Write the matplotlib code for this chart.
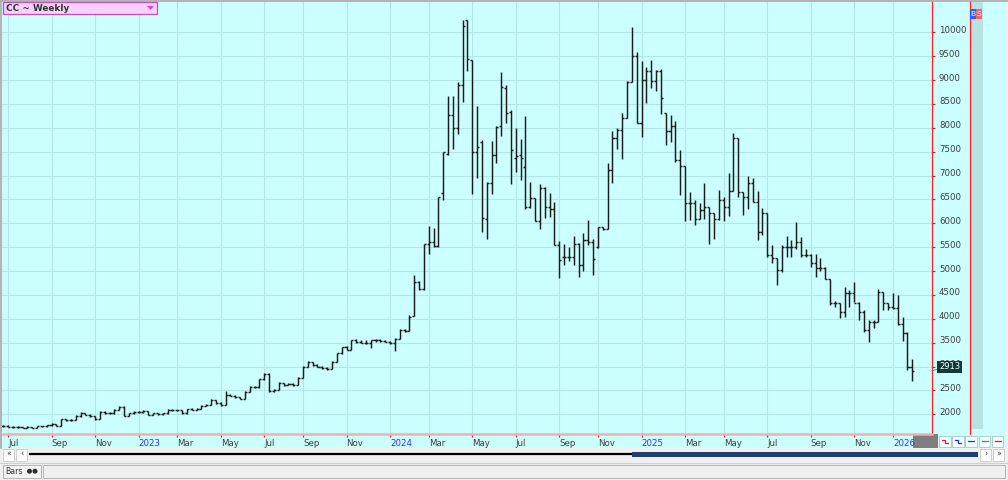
import numpy as np
import pandas as pd
import matplotlib
matplotlib.use("Agg")
import matplotlib.pyplot as plt
import matplotlib.transforms as mtransforms
from matplotlib.patches import Rectangle, Polygon, Circle

plt.rcParams["font.family"] = ["DejaVu Sans"]

# weekly OHLC (Friday-dated weeks)
first_week = "2022-06-24"

opens = [
    1745, 1765, 1740, 1730, 1725, 1720, 1735, 1720, 1745, 1750,
    1770, 1795, 1755, 1900, 1870, 1890, 1960, 2020, 1990, 1960,
    1900, 2050, 2030, 2020, 2100, 2160, 1970, 2020, 2050, 2040,
    2070, 1990, 2020, 2000, 2020, 2100, 2090, 2080, 2020, 2110,
    2100, 2120, 2180, 2190, 2300, 2240, 2190, 2410, 2390, 2360,
    2330, 2470, 2570, 2565, 2730, 2850, 2480, 2510, 2650, 2620,
    2640, 2620, 2760, 3000, 3090, 3040, 2990, 2970, 2950, 3100,
    3280, 3410, 3345, 3550, 3520, 3500, 3485, 3550, 3560, 3540,
    3520, 3500, 3585, 3770, 3745, 4060, 4780, 4620, 5560, 5600,
    5520, 6640, 7450, 8270, 7990, 8890, 10250, 9410, 7500, 7710,
    6100, 6840, 7440, 8040, 8830, 8320, 7360, 7430, 7170, 6350,
    6520, 6040, 6730, 6350, 6300, 5550, 5300, 5300, 5300, 5570,
    5130, 5650, 5600, 5500, 5920, 5880, 7120, 7780, 7960, 8200,
    8960, 9500, 8090, 9000, 9190, 8980, 9180, 8300, 7930, 8030,
    7320, 7200, 6420, 6430, 6080, 6280, 6350, 6210, 6080, 6490,
    6350, 6680, 7790, 6660, 6560, 6850, 6450, 5820, 6220, 5340,
    5270, 5020, 5510, 5510, 5510, 5610, 5340, 5340, 5160, 5060,
    5060, 4830, 4320, 4340, 4150, 4530, 4530, 4320, 4150, 3760,
    3940, 3940, 4570, 4320, 4250, 4220, 3900, 3700, 3000,
]
highs = [
    1785, 1770, 1750, 1745, 1740, 1745, 1740, 1755, 1765, 1785,
    1815, 1800, 1910, 1910, 1905, 1990, 2040, 2030, 2000, 1965,
    2060, 2065, 2045, 2110, 2170, 2165, 2030, 2065, 2060, 2080,
    2075, 2035, 2030, 2035, 2110, 2110, 2100, 2085, 2120, 2125,
    2135, 2190, 2205, 2310, 2305, 2250, 2490, 2425, 2400, 2370,
    2480, 2590, 2590, 2740, 2870, 2860, 2530, 2670, 2665, 2660,
    2650, 2780, 3010, 3120, 3100, 3060, 3010, 2985, 3110, 3290,
    3415, 3420, 3560, 3575, 3560, 3560, 3565, 3580, 3575, 3560,
    3530, 3600, 3780, 3790, 4070, 4920, 4790, 5570, 5950, 5900,
    6550, 7490, 8660, 8670, 8960, 10260, 10260, 9410, 8460, 7740,
    6870, 7730, 8040, 9160, 8900, 8370, 7990, 7760, 8240, 6870,
    6525, 6820, 6770, 6640, 6440, 5630, 5570, 5510, 5740, 5580,
    5790, 6070, 5670, 5930, 5930, 7270, 7940, 8000, 8300, 8970,
    10100, 9580, 9390, 9280, 9420, 9210, 9230, 8300, 8270, 8150,
    7540, 7200, 6660, 6490, 6420, 6840, 6350, 6210, 6700, 6540,
    7060, 7900, 7790, 6660, 6990, 6940, 6680, 6310, 6220, 5540,
    5270, 5540, 5730, 5650, 6030, 5720, 5470, 5360, 5360, 5270,
    5090, 4830, 4380, 4340, 4670, 4600, 4780, 4360, 4180, 3970,
    3970, 4620, 4570, 4320, 4530, 4500, 4030, 3720, 3150,
]
lows = [
    1735, 1730, 1720, 1715, 1710, 1715, 1705, 1715, 1735, 1740,
    1760, 1745, 1750, 1850, 1855, 1880, 1950, 1975, 1945, 1880,
    1895, 2010, 2005, 2015, 2090, 1960, 1960, 2010, 2025, 2030,
    1980, 1980, 1985, 1995, 2015, 2075, 2065, 2010, 2015, 2085,
    2090, 2110, 2165, 2185, 2225, 2180, 2185, 2375, 2350, 2320,
    2325, 2460, 2550, 2560, 2720, 2460, 2470, 2500, 2600, 2605,
    2590, 2610, 2750, 2990, 3020, 2980, 2955, 2930, 2945, 3090,
    3270, 3340, 3340, 3500, 3490, 3480, 3380, 3520, 3520, 3505,
    3480, 3330, 3570, 3720, 3740, 4050, 4610, 4600, 5360, 5510,
    5510, 6490, 7440, 7550, 7860, 8550, 9190, 6620, 6940, 5810,
    5670, 6620, 7260, 7820, 8110, 6820, 7080, 6910, 6300, 6320,
    6040, 5880, 6110, 6130, 5550, 4850, 5130, 5200, 5130, 4870,
    5010, 5550, 4920, 5480, 5860, 5870, 6850, 7550, 7340, 8200,
    8960, 8090, 7810, 8510, 8830, 8780, 8290, 7630, 7710, 7290,
    6590, 6050, 6070, 5960, 6080, 6100, 5570, 5680, 6070, 6050,
    6150, 6680, 6560, 6170, 6290, 6450, 5660, 5750, 5300, 5160,
    4710, 4990, 5300, 5300, 5470, 5300, 5300, 5090, 4880, 5010,
    4830, 4290, 4250, 4010, 4040, 4250, 4360, 3970, 3730, 3520,
    3800, 3940, 4180, 4180, 4200, 3880, 3540, 2930, 2690,
]
closes = [
    1765, 1740, 1730, 1725, 1720, 1735, 1720, 1745, 1750, 1770,
    1795, 1755, 1900, 1870, 1890, 1960, 2020, 1990, 1960, 1900,
    2050, 2030, 2020, 2100, 2160, 1970, 2020, 2050, 2040, 2070,
    1990, 2020, 2000, 2020, 2100, 2090, 2080, 2020, 2110, 2100,
    2120, 2180, 2190, 2300, 2240, 2190, 2410, 2390, 2360, 2330,
    2470, 2570, 2565, 2730, 2850, 2480, 2510, 2650, 2620, 2640,
    2620, 2760, 3000, 3090, 3040, 2990, 2970, 2950, 3100, 3280,
    3410, 3345, 3550, 3520, 3500, 3485, 3550, 3560, 3540, 3520,
    3500, 3585, 3770, 3745, 4040, 4780, 4620, 5570, 5600, 5520,
    6550, 7490, 8270, 7990, 8900, 10130, 9450, 7500, 7600, 6120,
    6840, 7420, 8020, 8860, 8300, 7540, 7400, 7360, 6350, 6520,
    6040, 6730, 6350, 6300, 5550, 5240, 5300, 5300, 5570, 5130,
    5650, 5600, 5250, 5920, 5880, 7120, 7780, 7960, 8200, 8960,
    9500, 8090, 9000, 9190, 8980, 9180, 8620, 7930, 8030, 7320,
    7200, 6420, 6430, 6080, 6280, 6350, 6210, 6080, 6490, 6350,
    6680, 7790, 6660, 6560, 6850, 6450, 5820, 6220, 5340, 5270,
    5020, 5510, 5510, 5510, 5610, 5340, 5340, 5160, 5060, 5060,
    4830, 4320, 4340, 4150, 4530, 4530, 4320, 4150, 3760, 3940,
    3940, 4570, 4320, 4250, 4220, 3900, 3700, 3000, 2913,
]

price_ticks = list(range(2000, 10001, 500))

CYAN = "#ccffff"
GRID = "#b4e6e6"
BAR = "#1c1c1c"

weeks = pd.date_range(first_week, periods=len(closes), freq="W-FRI")
idx = np.arange(len(closes))

# month ticks: first weekly bar of every odd month, year name in January
tick_pos, tick_lab = [], []
for i, d in enumerate(weeks):
    if d.month % 2 == 1 and (i == 0 or weeks[i - 1].month != d.month):
        tick_pos.append(i)
        tick_lab.append(str(d.year) if d.month == 1 else d.strftime("%b"))

fig = plt.figure(figsize=(10.08, 4.8), dpi=100, facecolor="#f0f0f0")

# window chrome behind the chart
bg = fig.add_axes([0, 0, 1, 1], zorder=0)
bg.set_xlim(0, 1008)
bg.set_ylim(480, 0)
bg.axis("off")
bg.add_patch(Rectangle((2, 1), 1004, 447, fc=CYAN, ec="none"))
bg.add_patch(Rectangle((970, 2), 12.5, 427, fc="#b8e2e2", ec="none"))
bg.plot([969.5, 969.5], [1, 434], color="#ff2020", lw=0.9)
bg.plot([0, 1008], [0.5, 0.5], color="#a8a8a8", lw=1.2)
bg.plot([0.7, 0.7], [0, 448], color="#a8a8a8", lw=1.2)
bg.add_patch(Rectangle((913, 434), 25, 14, fc="#7f7f7f", ec="none"))
btn_cols = ["#dd2222", "#2233dd", "#2233dd", "#22aa22", "#dd2222"]
for k, c in enumerate(btn_cols):
    bx = 939 + k * 13.2
    bg.add_patch(Rectangle((bx, 436), 11.5, 10.5, fc="#f4ffff", ec="#a0c8c8", lw=0.6))
    bg.plot([bx + 3, bx + 6, bx + 6, bx + 9], [439.5, 439.5, 443, 443] if k < 2 else [441, 441, 441, 441],
            color=c, lw=0.9)

# price chart
ax = fig.add_axes([2 / 1008, 46 / 480, 930 / 1008, 432 / 480], zorder=2)
ax.set_facecolor(CYAN)
ax.set_xlim(-0.24, 192.07)
ax.set_ylim(1587, 10634)

tick_w = 0.42
ax.vlines(idx, lows, highs, color=BAR, lw=1.05)
ax.hlines(opens, idx - tick_w, idx, color=BAR, lw=1.05)
ax.hlines(closes, idx, idx + tick_w, color=BAR, lw=1.05)

ax.set_xticks(tick_pos)
ax.set_xticklabels(tick_lab, ha="left", fontsize=6.2)
for lab in ax.get_xticklabels():
    lab.set_color("#2f2fff" if lab.get_text().isdigit() else "#3c3c3c")
ax.tick_params(axis="x", length=2.5, width=0.9, color="#e02020", pad=0.8)

ax.yaxis.tick_right()
ax.set_yticks(price_ticks)
ax.set_yticklabels([str(v) for v in price_ticks], fontsize=6.2, color="#3c3c3c")
ax.tick_params(axis="y", length=2.4, width=0.8, color="#b03030", pad=2.6)
lift = mtransforms.ScaledTranslation(0, 3 / 100, fig.dpi_scale_trans)
for lab in ax.get_yticklabels():
    lab.set_transform(lab.get_transform() + lift)

ax.grid(True, color=GRID, lw=0.8)
ax.set_axisbelow(True)
for s in ("top", "left"):
    ax.spines[s].set_visible(False)
ax.spines["right"].set_color("#ff2020")
ax.spines["right"].set_linewidth(0.9)
ax.spines["bottom"].set_color("#f0b0b0")
ax.spines["bottom"].set_linewidth(1.8)

last = closes[-1]
ax.annotate(str(last), xy=(1.0, last), xycoords=("axes fraction", "data"),
            xytext=(5, 3), textcoords="offset points", ha="left", va="center",
            fontsize=6.0, color="white",
            bbox=dict(boxstyle="square,pad=0.18", fc="#0e3a3a", ec="none"),
            arrowprops=dict(arrowstyle="-", color="#707070", lw=0.6,
                            shrinkA=0, shrinkB=0),
            annotation_clip=False)

# overlay chrome: title box, badges, scroll bar, status bar
ui = fig.add_axes([0, 0, 1, 1], zorder=5)
ui.set_xlim(0, 1008)
ui.set_ylim(480, 0)
ui.axis("off")
ui.patch.set_visible(False)

ui.add_patch(Rectangle((3, 2), 154, 12, fc="#f6d2f8", ec="#c24cc2", lw=0.9))
ui.text(6, 8.2, "CC ~ Weekly", fontsize=6.4, weight="bold", color="#333333", va="center")
ui.add_patch(Polygon([(147, 6), (154, 6), (150.5, 10)], closed=True, fc="#e040e0", ec="none"))

ui.add_patch(Rectangle((970, 8.5), 6.2, 10, fc="#3a55ff", ec="none"))
ui.add_patch(Rectangle((976.2, 8.5), 6.2, 10, fc="#e86a6a", ec="none"))
ui.text(973.1, 13.6, "B", fontsize=5.4, color="white", ha="center", va="center")
ui.text(979.3, 13.6, "S", fontsize=5.4, color="white", ha="center", va="center")

for bx, sym in [(3, "«"), (16, "‹"), (980, "›"), (993, "»")]:
    ui.add_patch(Rectangle((bx, 449), 11, 11.5, fc="white", ec="#c8c8c8", lw=0.6))
    ui.text(bx + 5.5, 454.5, sym, fontsize=5.5, ha="center", va="center", color="#333333")
ui.plot([29, 632], [453.6, 453.6], color="black", lw=1.6, solid_capstyle="butt")
ui.add_patch(Rectangle((632, 451.5), 346, 5, fc="#1f3f6c", ec="none"))

ui.plot([0, 1008], [462.5, 462.5], color="#d0d0d0", lw=0.8)
ui.add_patch(Rectangle((2.5, 465), 38.5, 12.5, fc="#f4f4f4", ec="#b4b4b4", lw=0.7))
ui.text(5.5, 471.3, "Bars", fontsize=5.6, color="#333333", va="center")
ui.add_patch(Circle((29.5, 471.2), 2.5, fc="#303030", ec="none"))
ui.add_patch(Circle((35.0, 471.2), 2.5, fc="#303030", ec="none"))
ui.add_patch(Rectangle((43, 465), 962, 12.5, fc="#f0f0f0", ec="#b4b4b4", lw=0.7))

fig.savefig("out.png", dpi=100, facecolor=fig.get_facecolor())
